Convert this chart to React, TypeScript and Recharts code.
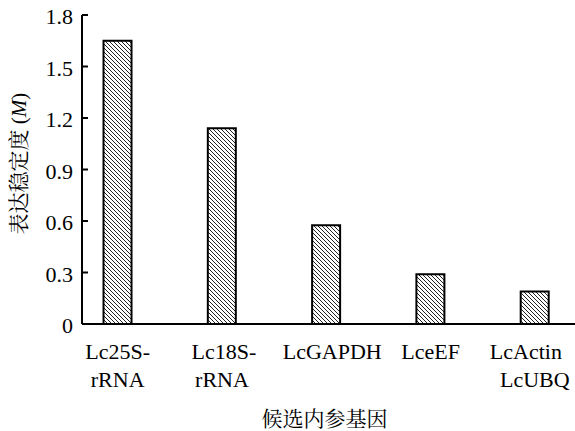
import { BarChart, Bar, XAxis, YAxis } from "recharts";

const genes = ["Lc25S-\nrRNA", "Lc18S-\nrRNA", "LcGAPDH", "LceEF", "LcActin\nLcUBQ"];
const stability = [1.65, 1.14, 0.575, 0.29, 0.19];
const positions = [1, 2, 3, 4, 5];
const yTicks = [0, 0.3, 0.6, 0.9, 1.2, 1.5, 1.8];

const data = genes.map((g, i) => ({ gene: g, pos: positions[i], m: stability[i] }));

const LATIN = "'Liberation Serif'";
const CJK = "'Noto Serif CJK SC'";

// small per-line nudges so the labels sit like in the original figure
const lineShift: Record<string, number> = { LcGAPDH: 6, LcActin: -9, "Lc18S-": 2 };

function YTick(props: any) {
  const { x, y, payload } = props;
  const v = payload.value as number;
  return (
    <g>
      <line x1={x} x2={x + 6} y1={y} y2={y} stroke="#000" strokeWidth={2} />
      <text x={x - 9} y={y + 9} textAnchor="end" style={{ fontSize: 22, fontFamily: LATIN }} fill="#000">
        {v === 0 ? "0" : v.toFixed(1)}
      </text>
    </g>
  );
}

function XTick(props: any) {
  const { x, y, payload } = props;
  const label = genes[positions.indexOf(payload.value)] ?? "";
  return (
    <g>
      {label.split("\n").map((line, i) => (
        <text
          key={i}
          x={x + (lineShift[line] ?? 0)}
          y={y + 35 + i * 28}
          textAnchor="middle"
          style={{ fontSize: 22, fontFamily: LATIN }}
          fill="#000"
        >
          {line}
        </text>
      ))}
    </g>
  );
}

export default function App() {
  return (
    <div style={{ position: "absolute", left: 0, top: 0, width: 575, height: 431 }}>
      <BarChart
        width={575}
        height={431}
        data={data}
        margin={{ top: 15, right: 0, left: 0, bottom: 0 }}
        barSize={28}
      >
        <defs>
          <pattern id="hatch" width={4} height={4} patternUnits="userSpaceOnUse">
            <rect width={4} height={4} fill="#fff" />
            <path d="M-1,-1 L5,5 M3,-1 L5,1 M-1,3 L1,5" stroke="#222" strokeWidth={1} />
          </pattern>
        </defs>
        <XAxis
          dataKey="pos"
          type="number"
          domain={[0.658, 5.385]}
          ticks={positions}
          allowDataOverflow
          height={107}
          tickSize={0}
          tickMargin={0}
          tickLine={false}
          axisLine={{ stroke: "#000", strokeWidth: 2 }}
          tick={<XTick />}
          label={{
            content: (p: any) => {
              const vb = p.viewBox;
              return (
                <text
                  x={vb.x + vb.width / 2 - 4}
                  y={vb.y + 102}
                  textAnchor="middle"
                  style={{ fontSize: 21, fontFamily: CJK }}
                  fill="#000"
                >
                  候选内参基因
                </text>
              );
            },
          }}
        />
        <YAxis
          domain={[0, 1.8]}
          ticks={yTicks}
          width={82}
          tickSize={0}
          tickMargin={0}
          tickLine={false}
          axisLine={{ stroke: "#000", strokeWidth: 2 }}
          tick={<YTick />}
          label={{
            content: (p: any) => {
              const vb = p.viewBox;
              const cx = 25.5;
              const cy = vb.y + vb.height / 2 - 6;
              return (
                <text
                  x={cx}
                  y={cy}
                  transform={`rotate(-90 ${cx} ${cy})`}
                  textAnchor="middle"
                  style={{ fontSize: 21, fontFamily: CJK }}
                  fill="#000"
                >
                  表达稳定度
                  <tspan style={{ fontFamily: LATIN }}> (</tspan>
                  <tspan style={{ fontFamily: LATIN, fontStyle: "italic" }}>M</tspan>
                  <tspan style={{ fontFamily: LATIN }}>)</tspan>
                </text>
              );
            },
          }}
        />
        <Bar dataKey="m" fill="url(#hatch)" stroke="#000" strokeWidth={2} isAnimationActive={false} />
      </BarChart>
    </div>
  );
}
